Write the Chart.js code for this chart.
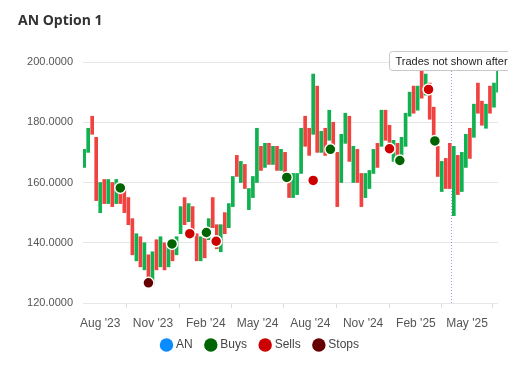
<!DOCTYPE html>
<html><head><meta charset="utf-8">
<script src="https://cdn.jsdelivr.net/npm/chart.js@4"></script>
<style>html,body{margin:0;padding:0;background:#fff}#wrap{width:530px;height:380px;position:relative}</style>
</head><body><div id="wrap"><canvas id="c"></canvas></div>
<script>
// ---- data ----
const title = 'AN Option 1';
const firstCandle = '2023-07-04';   // weekly candles from this date
const opens  = [165,170,182,175,150,161,153,160,153,160,158,155,148,134,142,131,136,126,141,132,140,132,140,136,143,155,147,152,143,134,143,141,155,146,137,150,145,152,169,160,166,151,155,160,172,165,173,166,172,164,170,163,155,156,163,182,178,176,192,170,178,174,180,170,160,173,182,160,171,163,155,158,163,173,172,184,179,167,173,167,172,182,192,184,197,189,193,185,172,157,168,173,149,169,157,165,178,175,193,187,178,192,185,190];
const closes = [171,178,176,154,160,153,161,152,161,153,150,146,136,143,132,140,128,137,131,142,131,139,134,142,152,146,153,142,134,142,135,148,145,138,146,143,153,162,162,167,158,158,162,178,164,173,166,172,164,171,163,155,163,163,178,172,169,196,170,177,169,184,170,152,176,183,167,172,160,152,163,164,171,165,184,174,170,174,166,175,183,190,183,192,188,196,181,175,162,167,158,158,172,156,170,176,168,186,183,179,186,183,193,197];
const buyDates   = ['2023-09-05','2023-12-04','2024-02-02','2024-06-21','2024-09-05','2025-01-04','2025-03-06'];
const buyPrices  = [158.2,139.6,143.4,161.7,171.0,167.3,173.8];
const sellDates  = ['2024-01-04','2024-02-19','2024-08-06','2024-12-17','2025-02-23'];
const sellPrices = [143.0,140.5,160.7,171.2,190.9];
const stopDates  = ['2023-10-24'];
const stopPrices = [126.7];
const tickDates  = ['2023-08-01','2023-11-01','2024-02-01','2024-05-01','2024-08-01','2024-11-01','2025-02-01','2025-05-01'];
const tickLabels = ["Aug '23","Nov '23","Feb '24","May '24","Aug '24","Nov '24","Feb '25","May '25"];
const xRange = ['2023-07-02','2025-06-24'];
const yTicks = [120,140,160,180,200];
const cutoffDate = '2025-04-03';
const cutoffText = 'Trades not shown after';
const legendNames  = ['AN','Buys','Sells','Stops'];
const legendColors = ['#0a8cff','#006400','#cc0000','#660000'];
const UP = '#10b14f', DOWN = '#f0423f';

// ---- helpers ----
const base = Date.parse('2023-08-01T00:00:00Z');
const day = s => (Date.parse(s + 'T00:00:00Z') - base) / 864e5;
const x0 = day(firstCandle);
const candles = opens.map((o, i) => ({x: x0 + 7 * i, y: [o, closes[i]]}));
const candleColors = opens.map((o, i) => closes[i] >= o ? UP : DOWN);
const pts = (ds, ps) => ds.map((d, i) => ({x: day(d), y: ps[i]}));

Chart.defaults.font.family = 'Arial, "Liberation Sans", sans-serif';
Chart.defaults.font.size = 12;

const cutoffPlugin = {
  id: 'cutoff',
  beforeDraw(chart) {
    if (chart.legend && !chart.legend._shifted) { chart.legend.left += 3; chart.legend.right += 3; chart.legend._shifted = true; }
  },
  afterDatasetsDraw(chart) {
    const {ctx, chartArea, scales} = chart;
    const px = Math.round(scales.x.getPixelForValue(day(cutoffDate))) + 0.5;
    ctx.save();
    ctx.strokeStyle = '#9c9cdc'; ctx.lineWidth = 1; ctx.setLineDash([1, 2]);
    ctx.beginPath(); ctx.moveTo(px, chartArea.top); ctx.lineTo(px, chartArea.bottom); ctx.stroke();
    ctx.setLineDash([]);
    ctx.beginPath(); ctx.rect(0, 0, 508, 380); ctx.clip();
    ctx.font = '11px Arial, "Liberation Sans", sans-serif';
    const tw = ctx.measureText(cutoffText).width;
    const bx = px - 62, by = chartArea.top - 10.5, bw = tw + 14, bh = 19;
    ctx.fillStyle = '#fff'; ctx.strokeStyle = '#c8c8c8';
    ctx.beginPath(); ctx.roundRect(bx, by, bw, bh, 3); ctx.fill(); ctx.stroke();
    ctx.fillStyle = '#222'; ctx.textBaseline = 'middle';
    ctx.fillText(cutoffText, bx + 6, by + bh / 2 + 0.5);
    ctx.restore();
  }
};

new Chart(document.getElementById('c'), {
  type: 'bar',
  data: {
    datasets: [
      {type: 'scatter', label: 'Buys', data: pts(buyDates, buyPrices), backgroundColor: legendColors[1], borderColor: '#fff', borderWidth: 1.5, pointRadius: 5.5, order: 1},
      {type: 'scatter', label: 'Sells', data: pts(sellDates, sellPrices), backgroundColor: legendColors[2], borderColor: '#fff', borderWidth: 1.5, pointRadius: 5.5, order: 1},
      {type: 'scatter', label: 'Stops', data: pts(stopDates, stopPrices), backgroundColor: legendColors[3], borderColor: '#fff', borderWidth: 1.5, pointRadius: 5.5, order: 1},
      {label: 'AN', data: candles, backgroundColor: candleColors, borderWidth: 0, barThickness: 3, order: 10}
    ]
  },
  options: {
    responsive: true, maintainAspectRatio: false, animation: false,
    layout: {padding: {left: 18, right: 32, top: 0, bottom: 19}},
    scales: {
      x: {
        type: 'linear', offset: false, min: day(xRange[0]), max: day(xRange[1]),
        afterBuildTicks: ax => { ax.ticks = tickDates.map(d => ({value: day(d)})); },
        afterFit: ax => { ax.height = 28; },
        ticks: {autoSkip: true, maxRotation: 0, color: '#555', padding: 8,
          callback: v => { const i = tickDates.findIndex(d => day(d) === v); return i >= 0 ? tickLabels[i] : ''; }},
        grid: {drawOnChartArea: false, drawTicks: true, tickLength: 5, color: '#dcdcdc'},
        border: {display: false}
      },
      y: {
        min: yTicks[0], max: yTicks[yTicks.length - 1],
        afterBuildTicks: ax => { ax.ticks = yTicks.map(v => ({value: v})); },
        afterFit: ax => { ax.width = 65; },
        ticks: {color: '#555', padding: 10, font: {size: 11}, callback: v => Number(v).toFixed(4)},
        grid: {color: '#e6e6e6', drawTicks: false},
        border: {display: false}
      }
    },
    plugins: {
      title: {display: true, text: title, align: 'start', color: '#333',
        font: {family: '"Open Sans", sans-serif', size: 14, weight: 'bold'}, padding: {top: 12.6, bottom: 32.6}},
      legend: {
        position: 'bottom',
        labels: {
          usePointStyle: true, boxWidth: 7, boxHeight: 9.5, padding: 8, color: '#444',
          generateLabels: () => legendNames.map((n, i) => ({text: i < legendNames.length - 1 ? n + '  ' : n, fillStyle: legendColors[i], strokeStyle: legendColors[i], lineWidth: 0, pointStyle: 'circle', hidden: false, datasetIndex: i, fontColor: '#444'}))
        }
      },
      tooltip: {enabled: false}
    }
  },
  plugins: [cutoffPlugin]
});
</script></body></html>
